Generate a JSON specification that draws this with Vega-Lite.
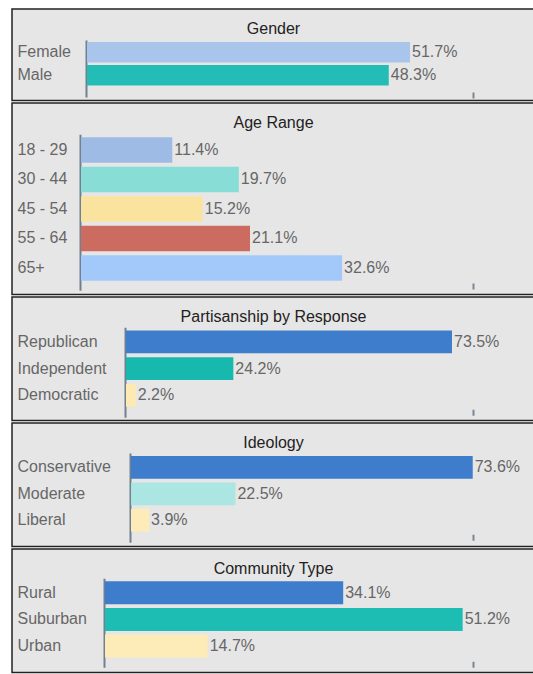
{
  "$schema": "https://vega.github.io/schema/vega-lite/v6.json",
  "padding": {"left": 11, "right": -2, "top": 0, "bottom": 0},
  "background": "white",
  "spacing": 0,
  "resolve": {"scale": {"x": "independent", "y": "independent", "color": "independent"}},
  "config": {
    "view": {"fill": "#e6e6e6", "stroke": "#222222", "strokeWidth": 1.5},
    "title": {"font": "Liberation Sans", "fontSize": 16, "fontWeight": "normal", "color": "#222222", "anchor": "middle"},
    "text": {"font": "Liberation Sans", "fontSize": 16, "color": "#666666"},
    "axis": {"grid": false, "title": null},
    "axisY": {"domain": true, "domainColor": "#708090", "domainWidth": 2, "ticks": false, "tickSize": 0, "labelAlign": "left", "labelFont": "Liberation Sans", "labelFontSize": 16, "labelColor": "#666666", "labelLimit": 300},
    "axisX": {"domain": false, "labels": false, "ticks": true, "tickSize": 6, "tickColor": "#7a8696", "tickWidth": 2}
  },
  "vconcat": [
    {
      "width": 523, "height": 8,
      "view": {"stroke": null},
      "data": {"values": []},
      "mark": {"type": "point"}
    },
    {
      "width": 523, "height": 91.5,
      "title": {"text": "Gender", "offset": -28},
      "data": {"values": [
        {"category": "Female", "share": 0.517},
        {"category": "Male", "share": 0.483}
      ]},
      "encoding": {
        "y": {"field": "category", "type": "nominal", "sort": null,
          "scale": {"range": [31, 88], "paddingInner": 0.11, "paddingOuter": 0.293, "align": 0.15, "round": false},
          "axis": {"offset": -74, "labelPadding": 69}},
        "x": {"field": "share", "type": "quantitative",
          "scale": {"domain": [0, 0.6178], "range": [75, 461], "nice": false, "zero": true},
          "axis": {"values": [0.6178], "offset": -8.5}}
      },
      "layer": [
        {"mark": {"type": "bar"},
         "encoding": {"color": {"field": "category", "type": "nominal", "legend": null,
           "scale": {"domain": ["Female", "Male"], "range": ["#a9c5eb", "#24bdb5"]}}}},
        {"mark": {"type": "text", "align": "left", "dx": 2, "baseline": "middle"},
         "encoding": {"text": {"field": "share", "format": ".1%"}}}
      ]
    },
    {
      "width": 523, "height": 191.5,
      "title": {"text": "Age Range", "offset": -28},
      "data": {"values": [
        {"category": "18 - 29", "share": 0.114},
        {"category": "30 - 44", "share": 0.197},
        {"category": "45 - 54", "share": 0.152},
        {"category": "55 - 64", "share": 0.211},
        {"category": "65+", "share": 0.326}
      ]},
      "encoding": {
        "y": {"field": "category", "type": "nominal", "sort": null,
          "scale": {"range": [31.25, 187.25], "paddingInner": 0.136, "paddingOuter": 0.212, "align": 0.24, "round": false},
          "axis": {"offset": -68, "labelPadding": 63}},
        "x": {"field": "share", "type": "quantitative",
          "scale": {"domain": [0, 0.4894], "range": [69, 461], "nice": false, "zero": true},
          "axis": {"values": [0.4894], "offset": -11.5}}
      },
      "layer": [
        {"mark": {"type": "bar"},
         "encoding": {"color": {"field": "category", "type": "nominal", "legend": null,
           "scale": {"domain": ["18 - 29", "30 - 44", "45 - 54", "55 - 64", "65+"], "range": ["#9dbbe4", "#88ddd6", "#fae39e", "#cc6b5f", "#a3c9fb"]}}}},
        {"mark": {"type": "text", "align": "left", "dx": 2, "baseline": "middle"},
         "encoding": {"text": {"field": "share", "format": ".1%"}}}
      ]
    },
    {
      "width": 523, "height": 123.5,
      "title": {"text": "Partisanship by Response", "offset": -28},
      "data": {"values": [
        {"category": "Republican", "share": 0.735},
        {"category": "Independent", "share": 0.242},
        {"category": "Democratic", "share": 0.022}
      ]},
      "encoding": {
        "y": {"field": "category", "type": "nominal", "sort": null,
          "scale": {"range": [30.25, 120.25], "paddingInner": 0.15, "paddingOuter": 0.26, "align": 0.24, "round": false},
          "axis": {"offset": -113, "labelPadding": 108}},
        "x": {"field": "share", "type": "quantitative",
          "scale": {"domain": [0, 0.7824], "range": [114, 461], "nice": false, "zero": true},
          "axis": {"values": [0.7824], "offset": -11.25}}
      },
      "layer": [
        {"mark": {"type": "bar"},
         "encoding": {"color": {"field": "category", "type": "nominal", "legend": null,
           "scale": {"domain": ["Republican", "Independent", "Democratic"], "range": ["#3d7dcc", "#17b8ae", "#fde9b2"]}}}},
        {"mark": {"type": "text", "align": "left", "dx": 2, "baseline": "middle"},
         "encoding": {"text": {"field": "share", "format": ".1%"}}}
      ]
    },
    {
      "width": 523, "height": 123.5,
      "title": {"text": "Ideology", "offset": -28},
      "data": {"values": [
        {"category": "Conservative", "share": 0.736},
        {"category": "Moderate", "share": 0.225},
        {"category": "Liberal", "share": 0.039}
      ]},
      "encoding": {
        "y": {"field": "category", "type": "nominal", "sort": null,
          "scale": {"range": [30, 119.25], "paddingInner": 0.14, "paddingOuter": 0.258, "align": 0.22, "round": false},
          "axis": {"offset": -118, "labelPadding": 113}},
        "x": {"field": "share", "type": "quantitative",
          "scale": {"domain": [0, 0.7366], "range": [119, 461], "nice": false, "zero": true},
          "axis": {"values": [0.7366], "offset": -12.25}}
      },
      "layer": [
        {"mark": {"type": "bar"},
         "encoding": {"color": {"field": "category", "type": "nominal", "legend": null,
           "scale": {"domain": ["Conservative", "Moderate", "Liberal"], "range": ["#3d7dcc", "#abe6e2", "#fdebb8"]}}}},
        {"mark": {"type": "text", "align": "left", "dx": 2, "baseline": "middle"},
         "encoding": {"text": {"field": "share", "format": ".1%"}}}
      ]
    },
    {
      "width": 523, "height": 123.5,
      "title": {"text": "Community Type", "offset": -28},
      "data": {"values": [
        {"category": "Rural", "share": 0.341},
        {"category": "Suburban", "share": 0.512},
        {"category": "Urban", "share": 0.147}
      ]},
      "encoding": {
        "y": {"field": "category", "type": "nominal", "sort": null,
          "scale": {"range": [29.25, 118.25], "paddingInner": 0.137, "paddingOuter": 0.238, "align": 0.236, "round": false},
          "axis": {"offset": -92, "labelPadding": 87}},
        "x": {"field": "share", "type": "quantitative",
          "scale": {"domain": [0, 0.5268], "range": [93, 461], "nice": false, "zero": true},
          "axis": {"values": [0.5268], "offset": -11.25}}
      },
      "layer": [
        {"mark": {"type": "bar"},
         "encoding": {"color": {"field": "category", "type": "nominal", "legend": null,
           "scale": {"domain": ["Rural", "Suburban", "Urban"], "range": ["#3d7dcc", "#1dbdb4", "#fdebb8"]}}}},
        {"mark": {"type": "text", "align": "left", "dx": 2, "baseline": "middle"},
         "encoding": {"text": {"field": "share", "format": ".1%"}}}
      ]
    }
  ]
}
